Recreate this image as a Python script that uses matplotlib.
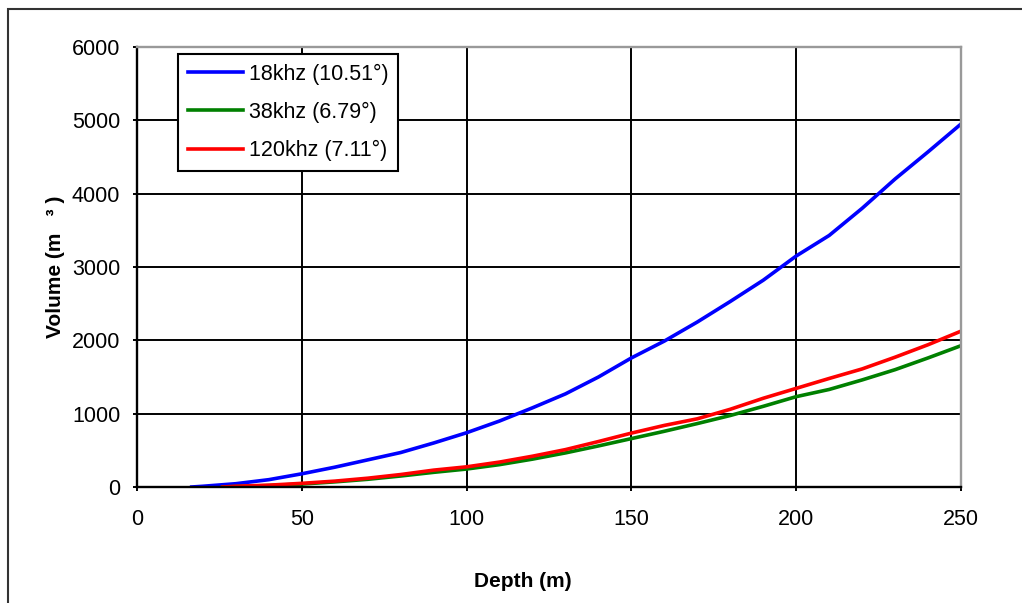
import matplotlib
matplotlib.use("Agg")
import matplotlib.pyplot as plt
from matplotlib.patches import Rectangle

plt.rcParams['font.family'] = ['Liberation Sans', 'DejaVu Sans']

# depth (m) and volume (m3)
depth_18 = [16.6, 20, 30, 40, 50, 60, 70, 80, 90, 100, 110, 120, 130, 140, 150,
            160, 170, 180, 190, 200, 210, 220, 230, 240, 250]
vol_18 = [0, 10, 45, 100, 180, 270, 370, 470, 600, 740, 900, 1080, 1270, 1500, 1760,
          1990, 2250, 2530, 2820, 3150, 3430, 3800, 4200, 4570, 4950]

depth_38 = [26, 30, 40, 50, 60, 70, 80, 90, 100, 110, 120, 130, 140, 150,
            160, 170, 180, 190, 200, 210, 220, 230, 240, 250]
vol_38 = [0, 8, 20, 40, 70, 105, 150, 200, 245, 305, 380, 465, 560, 660,
          760, 865, 975, 1100, 1232, 1330, 1460, 1600, 1760, 1927]

depth_120 = [26, 30, 40, 50, 60, 70, 80, 90, 100, 110, 120, 130, 140, 150,
             160, 170, 180, 190, 200, 210, 220, 230, 240, 250]
vol_120 = [0, 10, 25, 50, 80, 120, 170, 230, 275, 340, 420, 510, 620, 735,
           840, 930, 1060, 1210, 1345, 1480, 1610, 1770, 1940, 2125]

labels = ['18khz (10.51°)', '38khz (6.79°)', '120khz (7.11°)']
x_ticks = [0, 50, 100, 150, 200, 250]
y_ticks = [0, 1000, 2000, 3000, 4000, 5000, 6000]

fig = plt.figure(figsize=(10.22, 6.03), dpi=100)
ax = fig.add_axes([137 / 1022, 1 - 487 / 603, 824 / 1022, 440 / 603])

# outer frame of the chart area (runs off the right/bottom edge)
fig.patches.append(Rectangle((8 / 1022, -0.2), 1.2, 1 - 9 / 603 + 0.2,
                             transform=fig.transFigure, fill=False,
                             edgecolor='#333333', linewidth=1.5))

ax.plot(depth_18, vol_18, color='#0000ff', lw=2.6, label=labels[0])
ax.plot(depth_38, vol_38, color='#008000', lw=2.6, label=labels[1])
ax.plot(depth_120, vol_120, color='#ff0000', lw=2.6, label=labels[2])

ax.set_xlim(0, 250)
ax.set_ylim(0, 6000)
ax.set_xticks(x_ticks)
ax.set_yticks(y_ticks)
ax.grid(True, color='black', lw=1.4)
ax.set_axisbelow(True)

ax.tick_params(direction='out', length=3, width=1.4, labelsize=15.5,
               colors='black')
ax.tick_params(axis='x', pad=13)
ax.tick_params(axis='y', pad=9)

for s in ['left', 'bottom']:
    ax.spines[s].set_color('black')
    ax.spines[s].set_linewidth(1.7)
for s in ['top', 'right']:
    ax.spines[s].set_color('#999999')
    ax.spines[s].set_linewidth(1.7)

ax.set_xlabel('Depth (m)', fontsize=15, fontweight='bold')
ax.set_ylabel('Volume (m   ³ )', fontsize=15, fontweight='bold')
ax.xaxis.set_label_coords(0.468, -0.193)
ax.yaxis.set_label_coords(-0.0874, 0.5)

leg = ax.legend(loc='upper left', bbox_to_anchor=(41 / 824, (487 - 54) / 440),
                borderaxespad=0, fontsize=15.5, fancybox=False, framealpha=1,
                edgecolor='black', handlelength=2.55, handletextpad=0.3,
                labelspacing=0.79, borderpad=0.45)
leg.get_frame().set_linewidth(1.5)

fig.savefig('out.png', dpi=100)
